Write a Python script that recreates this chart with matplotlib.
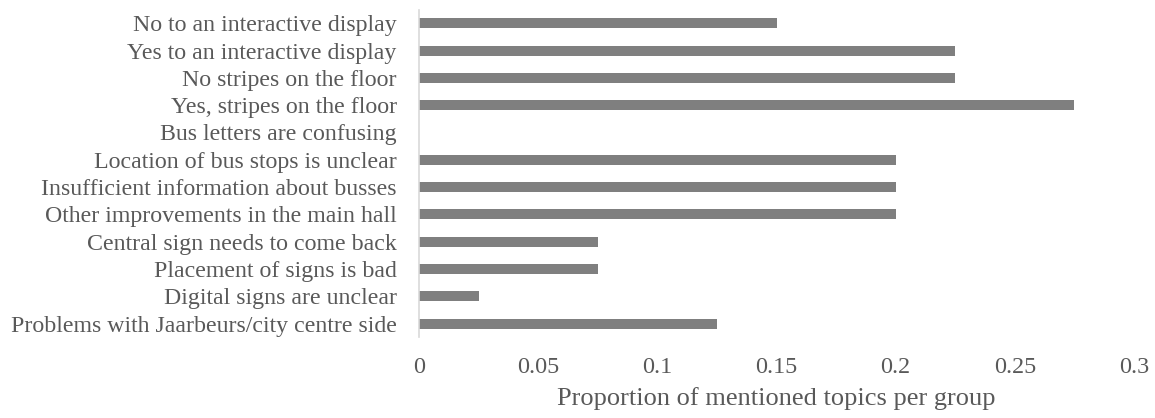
import matplotlib
matplotlib.use("Agg")
import matplotlib.pyplot as plt

categories = [
    "Problems with Jaarbeurs/city centre side",
    "Digital signs are unclear",
    "Placement of signs is bad",
    "Central sign needs to come back",
    "Other improvements in the main hall",
    "Insufficient information about busses",
    "Location of bus stops is unclear",
    "Bus letters are confusing",
    "Yes, stripes on the floor",
    "No stripes on the floor",
    "Yes to an interactive display",
    "No to an interactive display",
]
values = [0.125, 0.025, 0.075, 0.075, 0.2, 0.2, 0.2, 0.0, 0.275, 0.225, 0.225, 0.15]
xticks = [0, 0.05, 0.1, 0.15, 0.2, 0.25, 0.3]
xticklabels = ["0", "0.05", "0.1", "0.15", "0.2", "0.25", "0.3"]
xlabel = "Proportion of mentioned topics per group"

plt.rcParams['font.family'] = ['Liberation Serif', 'DejaVu Serif']

fig = plt.figure(figsize=(11.55, 4.18), dpi=100)
ax = fig.add_axes([0.3628, 0.1933, 0.619, 0.7837])

ax.barh(range(len(categories)), values, height=0.37, color="#7f7f7f")
ax.set_xlim(0, 0.3)
ax.set_ylim(-0.5, len(categories) - 0.5)
ax.set_yticks(range(len(categories)))
ax.set_yticklabels(categories, fontsize=17.2, color="#595959")
ax.set_xticks(xticks)
ax.set_xticklabels(xticklabels, fontsize=17.4, color="#595959")
ax.tick_params(axis="y", length=0, pad=16)
ax.tick_params(axis="x", length=0, pad=14)
ax.set_xlabel(xlabel, fontsize=19, color="#595959", labelpad=7)

for s in ["top", "right", "bottom"]:
    ax.spines[s].set_visible(False)
ax.spines["left"].set_color("#d9d9d9")
ax.spines["left"].set_linewidth(1.2)

fig.savefig("out.png", dpi=100)
